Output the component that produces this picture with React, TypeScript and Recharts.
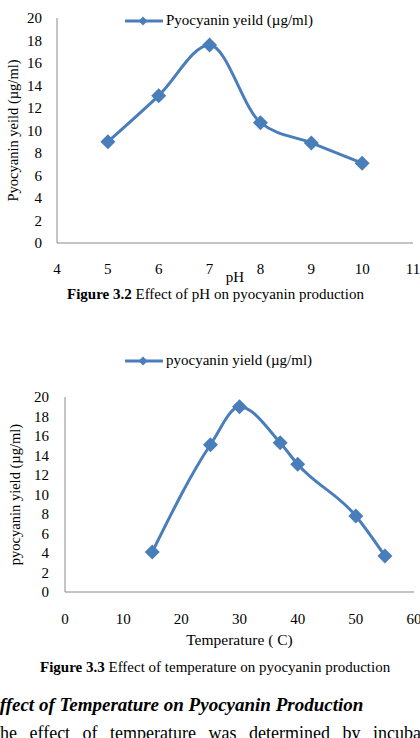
import React from "react";
import { LineChart, Line, XAxis, YAxis, Legend } from "recharts";

const FONT = "'Liberation Serif', 'Times New Roman', serif";
const BLUE = "#4a7ebb";
const AXIS = "#8a8a8a";

// pH chart
const phValues = [5, 6, 7, 8, 9, 10];
const phYield = [9.0, 13.1, 17.6, 10.7, 8.9, 7.1];
const phTicks = [4, 5, 6, 7, 8, 9, 10, 11];

// temperature chart
const tempValues = [15, 25, 30, 37, 40, 50, 55];
const tempYield = [4.1, 15.1, 19.0, 15.3, 13.1, 7.8, 3.7];
const tempTicks = [0, 10, 20, 30, 40, 50, 60];

const yTicks = [0, 2, 4, 6, 8, 10, 12, 14, 16, 18, 20];

const phData = phValues.map((x, i) => ({ x, y: phYield[i] }));
const tempData = tempValues.map((x, i) => ({ x, y: tempYield[i] }));

const Diamond = (props: any) => {
  const { cx, cy, index } = props;
  if (cx == null || cy == null) return <g key={`e-${index}`} />;
  const r = 7.5;
  return (
    <path
      key={`d-${index}`}
      d={`M${cx},${cy - r}L${cx + r},${cy}L${cx},${cy + r}L${cx - r},${cy}Z`}
      fill={BLUE}
    />
  );
};

function makeLegend(text: string, top: number) {
  return () => (
    <div style={{ position: "relative", width: 420, height: 20, fontFamily: FONT }}>
      <svg width={45} height={12} style={{ position: "absolute", left: 123, top: top - 6 }}>
        <line x1={2} y1={6} x2={40} y2={6} stroke={BLUE} strokeWidth={3} />
        <path d="M20,1.5L24.5,6L20,10.5L15.5,6Z" fill={BLUE} />
      </svg>
      <span
        style={{
          position: "absolute",
          left: 166,
          top: top - 11,
          fontSize: 15,
          lineHeight: "20px",
          whiteSpace: "nowrap",
          color: "#000",
        }}
      >
        {text}
      </span>
    </div>
  );
}

const tickStyle = { fill: "#000", fontSize: 15, fontFamily: FONT };
const labelStyle = { fill: "#000", fontSize: 15, fontFamily: FONT };

export default function App() {
  return (
    <div
      style={{
        position: "absolute",
        left: 0,
        top: 0,
        width: 420,
        height: 738,
        overflow: "hidden",
        background: "#fff",
        fontFamily: FONT,
        color: "#000",
      }}
    >
      <div style={{ position: "absolute", left: 0, top: 0 }}>
        <LineChart width={420} height={290} data={phData} margin={{ top: 18, right: 7, left: 0, bottom: 0 }}>
          <XAxis
            dataKey="x"
            type="number"
            domain={[4, 11]}
            ticks={phTicks}
            interval={0}
            height={47}
            tickLine={false}
            tickMargin={14}
            axisLine={{ stroke: AXIS }}
            tick={tickStyle}
            label={{ value: "pH", position: "insideBottom", offset: 8, style: labelStyle }}
          />
          <YAxis
            type="number"
            domain={[0, 20]}
            ticks={yTicks}
            interval={0}
            width={57}
            tickLine={false}
            tickMargin={9}
            axisLine={{ stroke: AXIS }}
            tick={tickStyle}
            label={{
              value: "Pyocyanin yeild (µg/ml)",
              angle: -90,
              position: "insideLeft",
              offset: 13,
              style: { ...labelStyle, fontSize: 14.5, textAnchor: "middle" },
            }}
          />
          <Legend
            layout="horizontal"
            verticalAlign="middle"
            align="center"
            wrapperStyle={{ left: 0, top: 0, width: 420, height: 30 }}
            content={makeLegend("Pyocyanin yeild (µg/ml)", 21)}
          />
          <Line
            type="monotone"
            dataKey="y"
            stroke={BLUE}
            strokeWidth={3}
            dot={Diamond}
            activeDot={false}
            isAnimationActive={false}
          />
        </LineChart>
      </div>

      <div style={{ position: "absolute", left: 67, top: 285, fontSize: 15, lineHeight: "18px", whiteSpace: "nowrap" }}>
        <b>Figure 3.2</b> Effect of pH on pyocyanin production
      </div>

      <div style={{ position: "absolute", left: 0, top: 330 }}>
        <LineChart width={420} height={325} data={tempData} margin={{ top: 67, right: 6, left: 0, bottom: 0 }}>
          <XAxis
            dataKey="x"
            type="number"
            domain={[0, 60]}
            ticks={tempTicks}
            interval={0}
            height={63}
            tickLine={false}
            tickMargin={15}
            axisLine={{ stroke: AXIS }}
            tick={tickStyle}
            label={{ value: "Temperature ( C)", position: "insideBottom", offset: 10, style: { ...labelStyle, fontSize: 15.5 } }}
          />
          <YAxis
            type="number"
            domain={[0, 20]}
            ticks={yTicks}
            interval={0}
            width={65}
            tickLine={false}
            tickMargin={10}
            axisLine={{ stroke: AXIS }}
            tick={tickStyle}
            label={{
              value: "pyocyanin yield (µg/ml)",
              angle: -90,
              position: "insideLeft",
              offset: 15,
              style: { ...labelStyle, fontSize: 14.5, textAnchor: "middle" },
            }}
          />
          <Legend
            layout="horizontal"
            verticalAlign="middle"
            align="center"
            wrapperStyle={{ left: 0, top: 0, width: 420, height: 45 }}
            content={makeLegend("pyocyanin yield (µg/ml)", 31)}
          />
          <Line
            type="monotone"
            dataKey="y"
            stroke={BLUE}
            strokeWidth={3}
            dot={Diamond}
            activeDot={false}
            isAnimationActive={false}
          />
        </LineChart>
      </div>

      <div style={{ position: "absolute", left: 40, top: 658, fontSize: 15, lineHeight: "18px", whiteSpace: "nowrap" }}>
        <b>Figure 3.3</b> Effect of temperature on pyocyanin production
      </div>

      <div
        style={{
          position: "absolute",
          left: -13,
          top: 694,
          fontSize: 19,
          lineHeight: "22px",
          fontWeight: "bold",
          fontStyle: "italic",
          whiteSpace: "nowrap",
        }}
      >
        Effect of Temperature on Pyocyanin Production
      </div>

      <div
        style={{
          position: "absolute",
          left: -11,
          top: 722,
          fontSize: 18,
          lineHeight: "22px",
          wordSpacing: 8,
          whiteSpace: "nowrap",
        }}
      >
        The effect of temperature was determined by incubating
      </div>
    </div>
  );
}
